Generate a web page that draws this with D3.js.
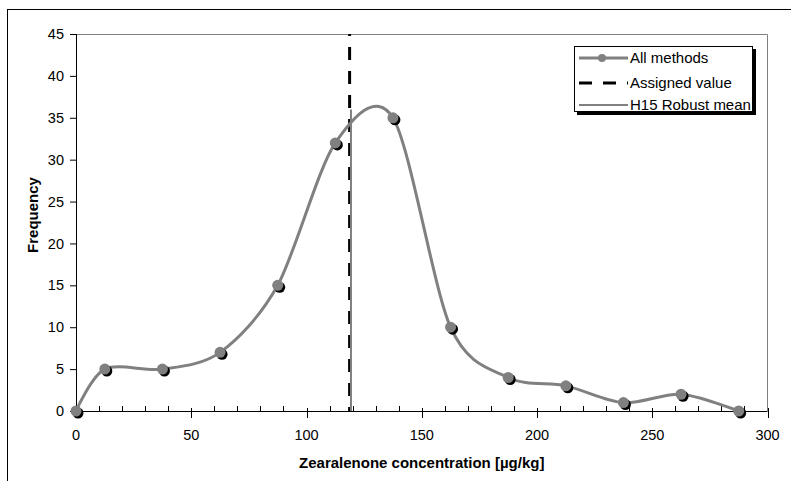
<!DOCTYPE html>
<html>
<head>
<meta charset="utf-8">
<script src="https://cdn.jsdelivr.net/npm/d3@7"></script>
<style>
  body { margin: 0; background: #fff; }
  svg { display: block; font-family: "Liberation Sans", Arial, sans-serif; }
</style>
</head>
<body>
<div id="chart"></div>
<script>
const layout = {
    width: 791,
    height: 481,
    left: 76,
    right: 767.5,
    top: 34,
    bottom: 411
};

// histogram midpoints (µg/kg) and frequencies
var concentrations = [0, 12.5, 37.5, 62.5, 87.5, 112.5, 137.5, 162.5, 187.5, 212.5, 237.5, 262.5, 287.5];
var frequencies = [0, 5, 5, 7, 15, 32, 35, 10, 4, 3, 1, 2, 0];
var assignedValue = 118.7;
var robustMean = 119.3;
var robustMeanHeight = 36;
var xTicks = [0, 50, 100, 150, 200, 250, 300];
var xMinorTicks = d3.range(0, 301, 10);
var yTicks = [0, 5, 10, 15, 20, 25, 30, 35, 40, 45];
var legendNames = ["All methods", "Assigned value", "H15 Robust mean"];

const grey = "#808080";

let svg = d3.select("#chart").append("svg")
    .attr("width", layout.width)
    .attr("height", layout.height);

// outer chart frame (only top/left visible)
svg.append("rect")
    .attr("x", 7.5).attr("y", 9.5)
    .attr("width", 800).attr("height", 500)
    .attr("fill", "none").attr("stroke", "#000");

let x = d3.scaleLinear().domain([0, 300]).range([layout.left, layout.right]);
let y = d3.scaleLinear().domain([0, 45]).range([layout.bottom, layout.top]);

// plot area border top/right
svg.append("path")
    .attr("d", `M${layout.left},${layout.top + 0.5}H${layout.right}V${layout.bottom}`)
    .attr("fill", "none").attr("stroke", grey).attr("stroke-width", 1);

// y axis
let yAxis = svg.append("g")
    .attr("transform", `translate(${layout.left},0)`)
    .call(d3.axisLeft(y).tickValues(yTicks).tickSize(6).tickPadding(6));
yAxis.selectAll("text").attr("font-size", 14.5).attr("fill", "#000").attr("font-family", null);
yAxis.selectAll("line, .domain").attr("stroke", "#000");
yAxis.select(".domain").attr("d", `M0.5,${layout.top}V${layout.bottom}`);

// x axis: minor ticks inside, major ticks crossing
let xAxisG = svg.append("g").attr("transform", `translate(0,${layout.bottom})`);
xAxisG.append("line")
    .attr("x1", layout.left).attr("x2", layout.right)
    .attr("y1", 0.5).attr("y2", 0.5).attr("stroke", "#000");
xAxisG.selectAll(".minor")
    .data(xMinorTicks.filter(d => d % 50 != 0))
    .enter().append("line")
    .attr("class", "minor")
    .attr("x1", d => Math.round(x(d)) + 0.5).attr("x2", d => Math.round(x(d)) + 0.5)
    .attr("y1", -5).attr("y2", 0).attr("stroke", "#000");
xAxisG.selectAll(".major")
    .data(xTicks)
    .enter().append("line")
    .attr("class", "major")
    .attr("x1", d => Math.round(x(d)) + 0.5).attr("x2", d => Math.round(x(d)) + 0.5)
    .attr("y1", -3).attr("y2", 7).attr("stroke", "#000");
xAxisG.selectAll(".lbl")
    .data(xTicks)
    .enter().append("text")
    .attr("class", "lbl")
    .attr("x", d => x(d)).attr("y", 29)
    .attr("text-anchor", "middle")
    .attr("font-size", 14.5)
    .text(d => d);

// axis titles
svg.append("text")
    .attr("transform", `translate(38,215) rotate(-90)`)
    .attr("text-anchor", "middle")
    .attr("font-size", 15).attr("font-weight", "bold")
    .text("Frequency");
svg.append("text")
    .attr("x", (layout.left + layout.right) / 2).attr("y", 468)
    .attr("text-anchor", "middle")
    .attr("font-size", 15).attr("font-weight", "bold")
    .text("Zearalenone concentration [µg/kg]");

// assigned value (dashed) and robust mean (grey)
svg.append("line")
    .attr("x1", x(assignedValue)).attr("x2", x(assignedValue))
    .attr("y1", y(45)).attr("y2", y(0))
    .attr("stroke", "#000").attr("stroke-width", 3)
    .attr("stroke-dasharray", "13,11").attr("stroke-dashoffset", 11);
svg.append("line")
    .attr("x1", x(robustMean)).attr("x2", x(robustMean))
    .attr("y1", y(robustMeanHeight)).attr("y2", y(0))
    .attr("stroke", grey).attr("stroke-width", 2);

// smoothed frequency curve
let pts = concentrations.map((c, i) => [c, frequencies[i]]);
let line = d3.line()
    .x(d => x(d[0])).y(d => y(d[1]))
    .curve(d3.curveCardinal.tension(0.1));
svg.append("path")
    .attr("d", line(pts))
    .attr("fill", "none").attr("stroke", grey).attr("stroke-width", 3);

// markers with shadow
svg.selectAll(".shadow")
    .data(pts).enter().append("circle")
    .attr("class", "shadow")
    .attr("cx", d => x(d[0]) + 2).attr("cy", d => y(d[1]) + 2)
    .attr("r", 5.5).attr("fill", "#000");
svg.selectAll(".dot")
    .data(pts).enter().append("circle")
    .attr("class", "dot")
    .attr("cx", d => x(d[0])).attr("cy", d => y(d[1]))
    .attr("r", 5.5).attr("fill", grey);

// legend
let lg = svg.append("g");
lg.append("rect").attr("x", 577).attr("y", 49).attr("width", 179).attr("height", 66).attr("fill", "#000");
lg.append("rect").attr("x", 574.5).attr("y", 46.5).attr("width", 178).attr("height", 65)
    .attr("fill", "#fff").attr("stroke", "#000");
let rowY = [58, 83, 105];
legendNames.forEach((name, i) => {
    let ly = rowY[i];
    let ln = lg.append("line").attr("x1", 579).attr("x2", 628).attr("y1", ly).attr("y2", ly);
    if (i == 0) {
        ln.attr("stroke", grey).attr("stroke-width", 3);
        lg.append("circle").attr("cx", 602).attr("cy", ly).attr("r", 4).attr("fill", grey);
    } else if (i == 1) {
        ln.attr("stroke", "#000").attr("stroke-width", 3).attr("stroke-dasharray", "13,11");
    } else {
        ln.attr("stroke", grey).attr("stroke-width", 2);
    }
    lg.append("text").attr("x", 630).attr("y", ly + 5)
        .attr("font-size", 15).text(name);
});
</script>
</body>
</html>
